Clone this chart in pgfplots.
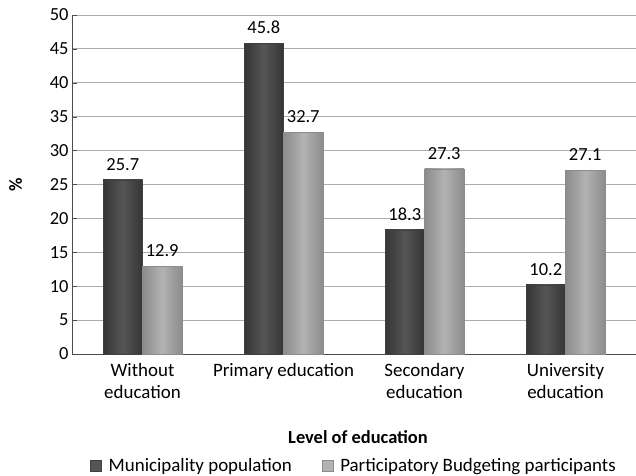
\documentclass[border=0pt]{standalone}
\usepackage{pgfplots}
\pgfplotsset{compat=1.18}
\usepackage{fontspec}
\setmainfont{Carlito}
\definecolor{darkbar}{HTML}{353535}
\definecolor{darkmid}{HTML}{555555}
\definecolor{lightbar}{HTML}{8C8C8C}
\definecolor{lightmid}{HTML}{B2B2B2}
\begin{document}
\begin{tikzpicture}[x=1bp,y=1bp]
\useasboundingbox (-72,-122) rectangle (564,354);
\begin{axis}[
  at={(0,0)}, anchor=south west,
  scale only axis, width=564bp, height=339bp,
  ybar, bar width=0.28,
  xmin=-0.5, xmax=3.5, ymin=0, ymax=50,
  ytick={0,5,...,50},
  xtick={0,1,2,3},
  xticklabels={{Without\\education},{Primary education},{Secondary\\education},{University\\education}},
  xticklabel style={align=center, font=\fontsize{19}{22}\selectfont, yshift=-1bp},
  yticklabel style={font=\fontsize{18.5}{22}\selectfont},
  /pgf/number format/assume math mode=true,
  axis x line*=bottom, axis y line*=left,
  x axis line style={draw=gray!60!black, -},
  y axis line style={draw=gray!60!black, -},
  major tick length=5bp,
  ytick style={draw=gray!60!black},
  xtick style={draw=none},
  ymajorgrids, grid style={draw=gray!65, line width=0.8pt},
  ylabel={\%}, ylabel style={font=\fontsize{18.5}{22}\selectfont\bfseries, at={(axis description cs:-0.1,0.5)}, anchor=center},
  xlabel={Level of education}, xlabel style={font=\fontsize{18.5}{22}\selectfont\bfseries, at={(axis description cs:0.5,0)}, anchor=center, yshift=-83bp, xshift=4bp},
  nodes near coords,
  nodes near coords style={font=\fontsize{18.5}{22}\selectfont, /pgf/number format/fixed, /pgf/number format/fixed zerofill, /pgf/number format/precision=1, yshift=6bp},
  legend style={at={(0.5,0)}, anchor=center, yshift=-112bp, xshift=0bp, draw=none, font=\fontsize{19}{22}\selectfont, legend columns=2, /tikz/every even column/.append style={column sep=28bp}, /tikz/every odd column/.append style={column sep=5bp}},
  legend image code/.code={\fill[#1] (0bp,-5bp) rectangle (11bp,6bp);},
  clip=false,
]
\pgfplotsset{dk/.style={draw=black!75, left color=darkbar, right color=darkbar, middle color=darkmid, bar shift=-0.14}, lt/.style={draw=black!45, left color=lightbar, right color=lightbar, middle color=lightmid, bar shift=0.14}}
\addlegendimage{fill=darkmid, draw=black!75}
\addlegendimage{fill=lightmid, draw=black!45}
\addplot[dk, forget plot] coordinates {(0,25.7)};
\addplot[dk, forget plot] coordinates {(1,45.8)};
\addplot[dk, forget plot] coordinates {(2,18.3)};
\addplot[dk, forget plot] coordinates {(3,10.2)};
\addplot[lt, forget plot] coordinates {(0,12.9)};
\addplot[lt, forget plot] coordinates {(1,32.7)};
\addplot[lt, forget plot] coordinates {(2,27.3)};
\addplot[lt, forget plot] coordinates {(3,27.1)};
\legend{Municipality population, Participatory Budgeting participants}
\end{axis}
\end{tikzpicture}
\end{document}
